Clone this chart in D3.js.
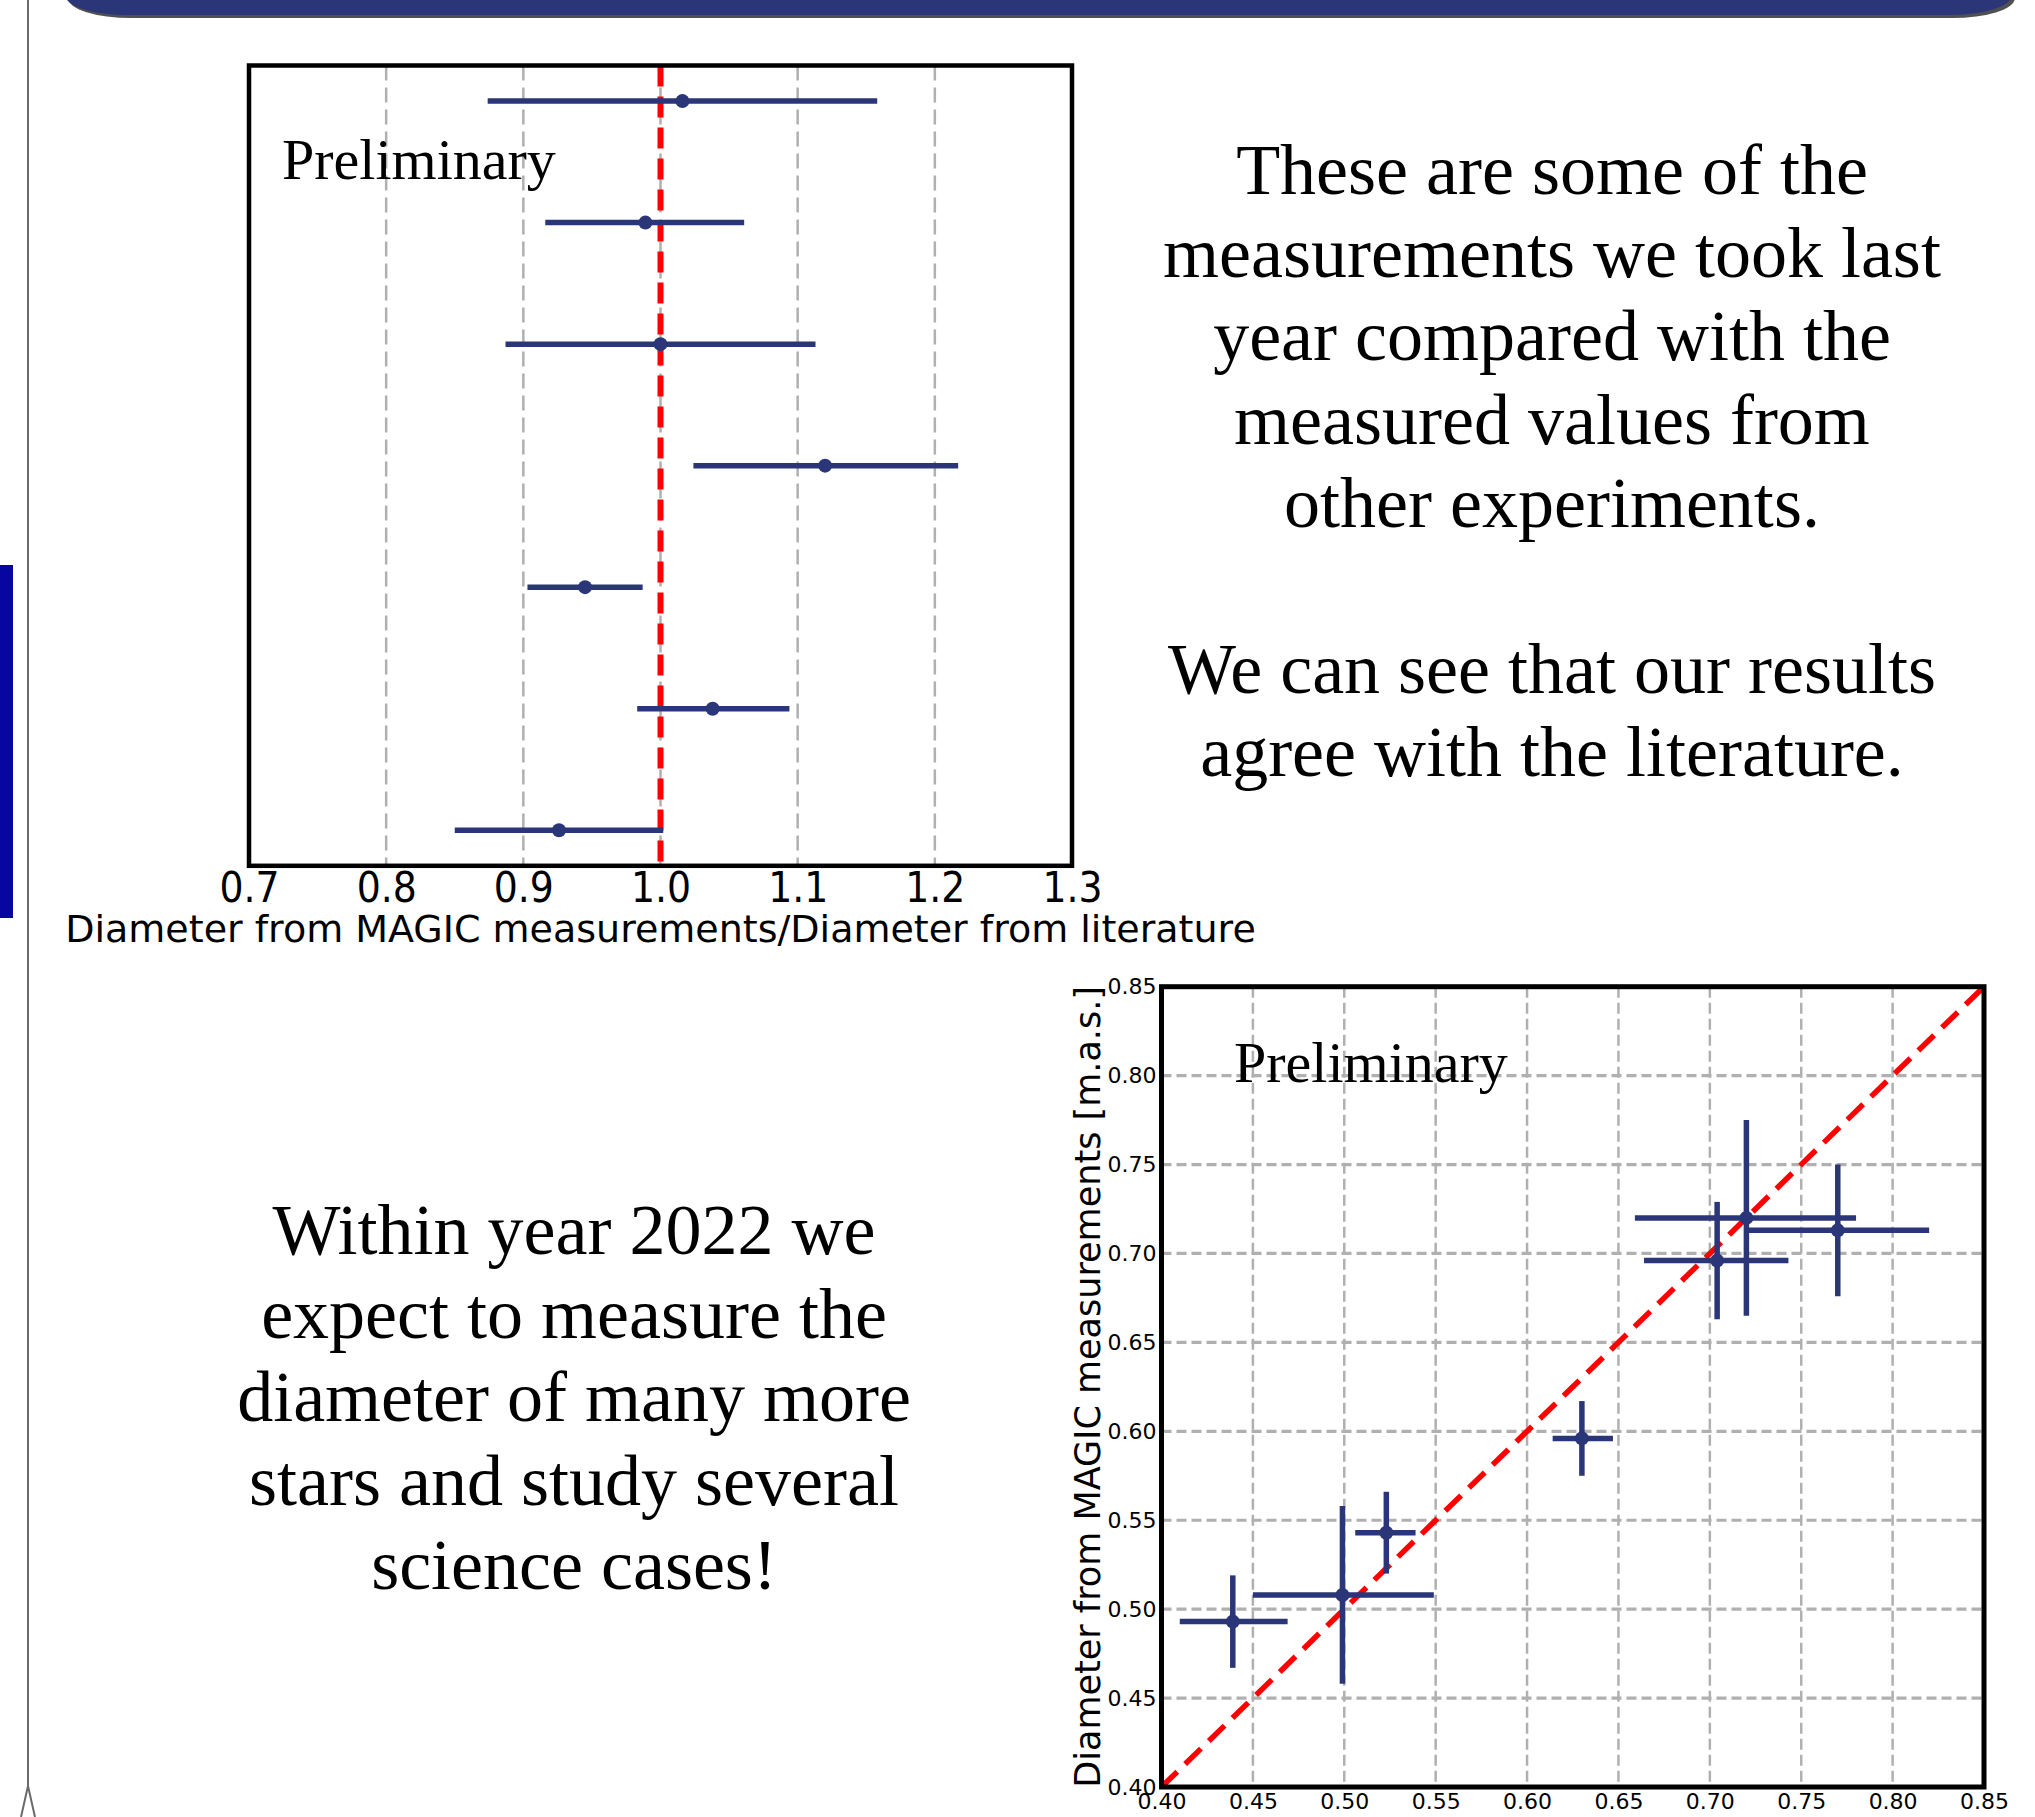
<!DOCTYPE html>
<html>
<head>
<meta charset="utf-8">
<script src="https://cdn.jsdelivr.net/npm/d3@7"></script>
<style>
  html, body { margin: 0; padding: 0; background: #ffffff; }
  svg { display: block; }
</style>
</head>
<body>
<svg id="poster" width="2035" height="1817"></svg>
<script>
// ---- Ratio panel: MAGIC diameter / literature diameter, one row per star ----
const starRows = ["star1", "star2", "star3", "star4", "star5", "star6", "star7"];
const ratioValues = [1.016, 0.989, 1.000, 1.120, 0.945, 1.038, 0.926];
const ratioLow    = [0.874, 0.916, 0.887, 1.024, 0.903, 0.983, 0.850];
const ratioHigh   = [1.158, 1.061, 1.113, 1.217, 0.987, 1.094, 1.002];
const ratioTicks  = [0.7, 0.8, 0.9, 1.0, 1.1, 1.2, 1.3];

// ---- Scatter panel: literature diameter vs MAGIC diameter [m.a.s.] ----
const litDiam   = [0.720, 0.770, 0.704, 0.630, 0.523, 0.499, 0.439];
const litLow    = [0.659, 0.719, 0.664, 0.614, 0.506, 0.450, 0.410];
const litHigh   = [0.780, 0.820, 0.743, 0.647, 0.539, 0.549, 0.469];
const magicDiam = [0.720, 0.713, 0.696, 0.596, 0.543, 0.508, 0.493];
const magicLow  = [0.665, 0.676, 0.663, 0.575, 0.520, 0.458, 0.467];
const magicHigh = [0.775, 0.750, 0.729, 0.617, 0.566, 0.558, 0.519];
const diamTicks = [0.40, 0.45, 0.50, 0.55, 0.60, 0.65, 0.70, 0.75, 0.80, 0.85];

// ---- Text blocks ----
const topText = [
  "These are some of the",
  "measurements we took last",
  "year compared with the",
  "measured values from",
  "other experiments.",
  "",
  "We can see that our results",
  "agree with the literature."
];
const bottomText = [
  "Within year 2022 we",
  "expect to measure the",
  "diameter of many more",
  "stars and study several",
  "science cases!"
];

const NAVY = "#2b3678";
const RED = "#ff0000";
const GRID = "#b0b0b0";
const SANS = "'DejaVu Sans', sans-serif";
const SERIF = "'Liberation Serif', 'Times New Roman', serif";

const svg = d3.select("#poster");

// Page background
svg.append("rect").attr("width", 2035).attr("height", 1817).attr("fill", "#ffffff");

// Header banner with rounded lower corners and a thin shadow
svg.append("rect")
  .attr("x", 68).attr("y", -25).attr("width", 1947).attr("height", 43)
  .attr("rx", 63).attr("ry", 20).attr("fill", "#505050");
svg.append("rect")
  .attr("x", 65).attr("y", -25).attr("width", 1947).attr("height", 40)
  .attr("rx", 63).attr("ry", 20).attr("fill", NAVY);

// Left margin rule with forked foot
svg.append("path")
  .attr("d", "M28,0 L28,1786 M28,1786 L21,1817 M28,1786 L35,1817")
  .attr("fill", "none").attr("stroke", "#6b6b6b").attr("stroke-width", 2);

// Left side accent bar
svg.append("rect")
  .attr("x", 0).attr("y", 565).attr("width", 13).attr("height", 353)
  .attr("fill", "#0806a0");

// =================== Ratio panel ===================
(function () {
  const left = 249, right = 1072, top = 65.5, bottom = 865.8;
  const x = d3.scaleLinear().domain([0.7, 1.3]).range([left, right]);
  const y = d3.scalePoint().domain(starRows).range([top, bottom]).padding(0.293);
  const g = svg.append("g");

  // vertical dashed grid
  g.append("g").selectAll("line")
    .data(ratioTicks.slice(1, -1))
    .join("line")
    .attr("x1", d => x(d)).attr("x2", d => x(d))
    .attr("y1", top).attr("y2", bottom)
    .attr("stroke", GRID).attr("stroke-width", 2.5)
    .attr("stroke-dasharray", "15,7");

  // reference ratio = 1
  g.append("line")
    .attr("x1", x(1)).attr("x2", x(1))
    .attr("y1", top).attr("y2", bottom)
    .attr("stroke", RED).attr("stroke-width", 6)
    .attr("stroke-dasharray", "21,10");

  const rows = starRows.map((s, i) => ({
    s, v: ratioValues[i], lo: ratioLow[i], hi: ratioHigh[i]
  }));

  g.append("g").selectAll("line")
    .data(rows).join("line")
    .attr("x1", d => x(d.lo)).attr("x2", d => x(d.hi))
    .attr("y1", d => y(d.s)).attr("y2", d => y(d.s))
    .attr("stroke", NAVY).attr("stroke-width", 5.5);

  g.append("g").selectAll("circle")
    .data(rows).join("circle")
    .attr("cx", d => x(d.v)).attr("cy", d => y(d.s)).attr("r", 7)
    .attr("fill", NAVY);

  // frame
  g.append("rect")
    .attr("x", left).attr("y", top)
    .attr("width", right - left).attr("height", bottom - top)
    .attr("fill", "none").attr("stroke", "#000").attr("stroke-width", 4.5);

  // x axis labels
  const ax = g.append("g")
    .attr("transform", `translate(0,${bottom})`)
    .call(d3.axisBottom(x).tickValues(ratioTicks).tickFormat(d3.format(".1f"))
      .tickSize(0).tickPadding(6));
  ax.select(".domain").remove();
  ax.selectAll("text")
    .attr("font-family", SANS).attr("font-size", 42).attr("fill", "#000")
    .attr("transform", "scale(0.9,1)");

  g.append("text")
    .attr("x", (left + right) / 2).attr("y", 942)
    .attr("text-anchor", "middle")
    .attr("font-family", SANS).attr("font-size", 38).attr("fill", "#000")
    .text("Diameter from MAGIC measurements/Diameter from literature");

  g.append("text")
    .attr("x", 282).attr("y", 179)
    .attr("font-family", SERIF).attr("font-size", 58).attr("fill", "#000")
    .text("Preliminary");
})();

// =================== Scatter panel ===================
(function () {
  const left = 1161.5, right = 1984, top = 986.7, bottom = 1787;
  const x = d3.scaleLinear().domain([0.40, 0.85]).range([left, right]);
  const y = d3.scaleLinear().domain([0.40, 0.85]).range([bottom, top]);
  const g = svg.append("g");

  const inner = diamTicks.slice(1, -1);
  g.append("g").selectAll("line")
    .data(inner).join("line")
    .attr("x1", d => x(d)).attr("x2", d => x(d))
    .attr("y1", top).attr("y2", bottom)
    .attr("stroke", GRID).attr("stroke-width", 2.5)
    .attr("stroke-dasharray", "11,5");
  g.append("g").selectAll("line")
    .data(inner).join("line")
    .attr("y1", d => y(d)).attr("y2", d => y(d))
    .attr("x1", left).attr("x2", right)
    .attr("stroke", GRID).attr("stroke-width", 3.2)
    .attr("stroke-dasharray", "10,5");

  // one-to-one line
  g.append("line")
    .attr("x1", x(0.40)).attr("y1", y(0.40))
    .attr("x2", x(0.85)).attr("y2", y(0.85))
    .attr("stroke", RED).attr("stroke-width", 5.5)
    .attr("stroke-dasharray", "22,11");

  const pts = litDiam.map((v, i) => ({
    x: v, xlo: litLow[i], xhi: litHigh[i],
    y: magicDiam[i], ylo: magicLow[i], yhi: magicHigh[i]
  }));

  const eb = g.append("g");
  eb.selectAll("line.h").data(pts).join("line").attr("class", "h")
    .attr("x1", d => x(d.xlo)).attr("x2", d => x(d.xhi))
    .attr("y1", d => y(d.y)).attr("y2", d => y(d.y))
    .attr("stroke", NAVY).attr("stroke-width", 5.5);
  eb.selectAll("line.v").data(pts).join("line").attr("class", "v")
    .attr("x1", d => x(d.x)).attr("x2", d => x(d.x))
    .attr("y1", d => y(d.ylo)).attr("y2", d => y(d.yhi))
    .attr("stroke", NAVY).attr("stroke-width", 5.5);
  eb.selectAll("circle").data(pts).join("circle")
    .attr("cx", d => x(d.x)).attr("cy", d => y(d.y)).attr("r", 7)
    .attr("fill", NAVY);

  g.append("rect")
    .attr("x", left).attr("y", top)
    .attr("width", right - left).attr("height", bottom - top)
    .attr("fill", "none").attr("stroke", "#000").attr("stroke-width", 5);

  const fmt = d3.format(".2f");
  const ax = g.append("g")
    .attr("transform", `translate(0,${bottom})`)
    .call(d3.axisBottom(x).tickValues(diamTicks).tickFormat(fmt).tickSize(0).tickPadding(6));
  ax.select(".domain").remove();
  ax.selectAll("text").attr("font-family", SANS).attr("font-size", 22).attr("fill", "#000");

  const ay = g.append("g")
    .attr("transform", `translate(${left},0)`)
    .call(d3.axisLeft(y).tickValues(diamTicks).tickFormat(fmt).tickSize(0).tickPadding(5));
  ay.select(".domain").remove();
  ay.selectAll("text").attr("font-family", SANS).attr("font-size", 22).attr("fill", "#000");

  g.append("text")
    .attr("transform", `translate(1100,${(top + bottom) / 2}) rotate(-90)`)
    .attr("text-anchor", "middle")
    .attr("font-family", SANS).attr("font-size", 35).attr("fill", "#000")
    .text("Diameter from MAGIC measurements [m.a.s.]");

  // x axis title sits at the page's lower edge
  g.append("text")
    .attr("x", (left + right) / 2).attr("y", 1845)
    .attr("text-anchor", "middle")
    .attr("font-family", SANS).attr("font-size", 35).attr("fill", "#000")
    .text("Diameter from literature [m.a.s.]");

  g.append("text")
    .attr("x", 1234).attr("y", 1082)
    .attr("font-family", SERIF).attr("font-size", 58).attr("fill", "#000")
    .text("Preliminary");
})();

// =================== Text blocks ===================
svg.append("g").selectAll("text")
  .data(topText).join("text")
  .attr("x", 1552).attr("y", (d, i) => 194 + i * 83.2)
  .attr("text-anchor", "middle")
  .attr("font-family", SERIF).attr("font-size", 72).attr("fill", "#000")
  .text(d => d);

svg.append("g").selectAll("text")
  .data(bottomText).join("text")
  .attr("x", 574).attr("y", (d, i) => 1254 + i * 83.7)
  .attr("text-anchor", "middle")
  .attr("font-family", SERIF).attr("font-size", 72).attr("fill", "#000")
  .text(d => d);
</script>
</body>
</html>
